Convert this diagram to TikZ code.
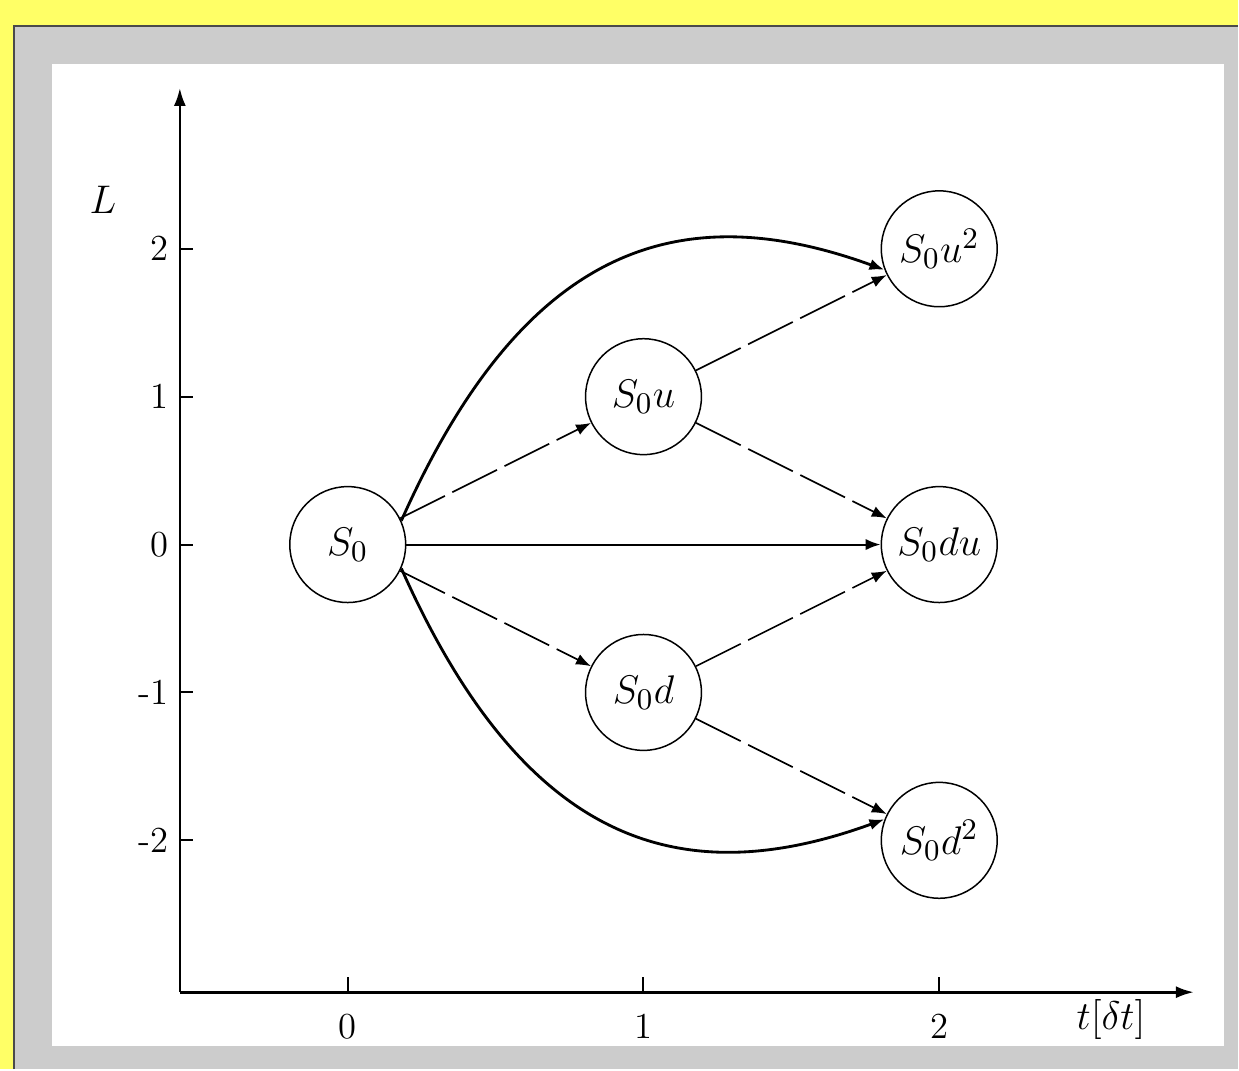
\documentclass[tikz,border=0pt]{standalone}
\usepackage{amsmath}
\usepackage{amssymb}
\usepackage{tikz}
\usetikzlibrary{arrows.meta}

\definecolor{frameyellow}{HTML}{FFFF66}
\definecolor{framegray}{HTML}{CCCCCC}
\definecolor{frameline}{HTML}{4A4A4A}

\tikzset{
    state/.style={circle, draw, line width=0.45pt, minimum size=34.8pt, inner sep=0pt,
                  font=\fontsize{12.5}{15}\selectfont},
    move/.style={line width=0.5pt, dash pattern=on 15pt off 2.5pt,
                 -{Latex[length=4.5pt,width=3.4pt]}},
    jump/.style={line width=0.85pt, -{Latex[length=4.5pt,width=3.4pt]}},
    axis/.style={line width=0.8pt, -{Latex[length=5.4pt,width=3.6pt]}},
    ticklabel/.style={font=\fontsize{11}{13}\selectfont}
}

\begin{document}
\begin{tikzpicture}[x=88.8pt, y=44.4pt]
                    % Frame
                    \fill[frameyellow] (-1.1757,-3.5473) rectangle (3.0101,3.6824);
                    \fill[framegray] (-1.1284,-3.5473) rectangle (3.0101,3.5068);
                    \draw[frameline, line width=0.6pt] (-1.1284,-3.5473) -- (-1.1284,3.5068) -- (3.0101,3.5068);
                    \fill[white] (-1.0,-3.3919) rectangle (2.9628,3.25);
                    \useasboundingbox (-1.1757,-3.5473) rectangle (3.0101,3.6824);
                    % Axes
                    \coordinate (O) at (-0.5676,-3.027);
                    \coordinate (ytop) at (-0.5676,3.088);
                    \coordinate (xend) at (2.861,-3.027);
                    \draw[axis] (O) -- (ytop);
                    \draw[axis] (O) -- (xend);
                    \foreach \l/\txt in {2/2, 1/1, 0/0, -1/-1, -2/-2} {
                        \draw[line width=0.6pt] (-0.5676,\l) -- ++(3.9pt,0);
                        \node[ticklabel, left] (ly\l) at (-0.5676,\l) {\txt};
                    }
                    \foreach \t in {0,1,2} {
                        \draw[line width=0.6pt] (\t,-3.027) -- ++(0,4.5pt);
                        \node[ticklabel] (lx\t) at (\t,-3.257) {\t};
                    }
                    \node[font=\fontsize{12.5}{15}\selectfont] (L) at (-0.828,2.331) {$L$};
                    \node[font=\fontsize{12.5}{15}\selectfont] (T) at (2.581,-3.209) {$t[\delta t]$};
                    % Nodes
                    \node[state] (s0) at (0,0) {$S_0$};
                    \node[state] (s0u) at (1,1) {$S_0u$};
                    \node[state] (s0d) at (1,-1) {$S_0d$};
                    \node[state] (s0u2) at (2,2) {$S_0u^2$};
                    \node[state] (s0du) at (2,0) {$S_0du$};
                    \node[state] (s0d2) at (2,-2) {$S_0d^2$};
                    % Edges
                    \draw[move] (s0) -- (s0u);
                    \draw[move] (s0) -- (s0d);
                    \draw[move] (s0u) -- (s0u2);
                    \draw[move] (s0u) -- (s0du);
                    \draw[move] (s0d) -- (s0du);
                    \draw[move] (s0d) -- (s0d2);
                    \draw[line width=0.6pt, -{Latex[length=4.5pt,width=3.4pt]}] (s0) -- (s0du);
                    \draw[jump] (s0.24) to[out=66, in=160, out distance=90pt, in distance=66pt] (s0u2.201);
                    \draw[jump] (s0.-24) to[out=-66, in=200, out distance=90pt, in distance=66pt] (s0d2.159);
                \end{tikzpicture}
\end{document}
